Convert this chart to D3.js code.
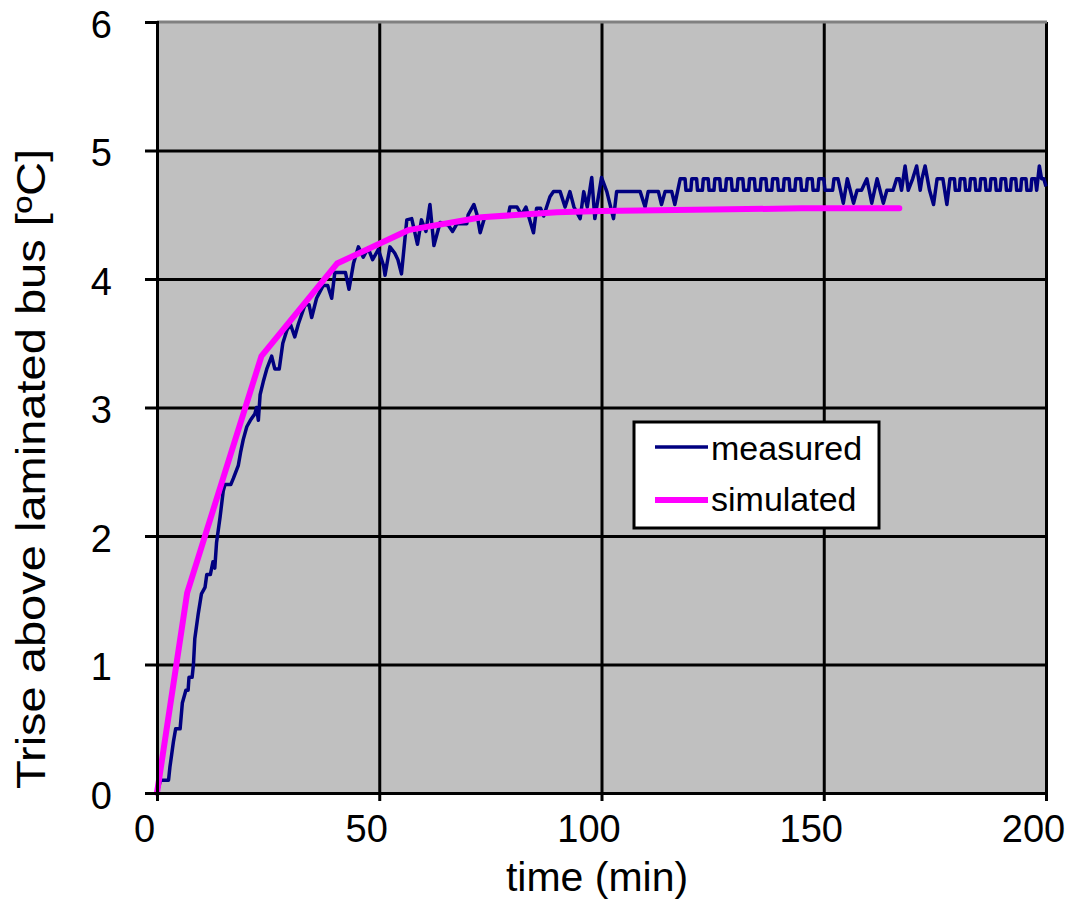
<!DOCTYPE html>
<html>
<head>
<meta charset="utf-8">
<script src="https://cdn.jsdelivr.net/npm/d3@7/dist/d3.min.js"></script>
<style>
  html, body { margin: 0; padding: 0; background: #ffffff; }
  svg { display: block; }
  text { font-family: "Liberation Sans", Arial, Helvetica, sans-serif; fill: #000; }
</style>
</head>
<body>
<svg id="chart" width="1070" height="902"></svg>
<script>
// ---- data ----
const xTicks = [0, 50, 100, 150, 200];
const yTicks = [0, 1, 2, 3, 4, 5, 6];
const xTitle = "time (min)";
const yTitle = "Trise above laminated bus [ºC]";
const seriesNames = ["measured", "simulated"];

// simulated curve: [time (min), temperature rise (°C)]
const simulated = [
  [0, 0], [6.8, 1.56], [23.5, 3.40], [40.5, 4.12], [56.5, 4.38], [73, 4.48],
  [90, 4.52], [100, 4.53], [125, 4.54], [145, 4.55], [167, 4.55]
];

// measured curve: [time (min), temperature rise (°C)]
const measured = [
  [0,0],[0.8,0.1],[1.5,0.1],[2.6,0.1],[2.9,0.2],[3.3,0.3],[3.7,0.4],[4.2,0.5],[5.2,0.5],[5.7,0.7],
  [6.5,0.8],[7.0,0.8],[7.2,0.9],[7.9,0.9],[8.2,1.0],[8.5,1.2],[9.3,1.4],[10.0,1.55],[10.8,1.6],[11.2,1.7],
  [12.0,1.7],[12.6,1.8],[13.0,1.75],[13.4,1.95],[14.2,2.15],[14.9,2.35],[15.3,2.4],[16.6,2.4],[17.2,2.45],[18.3,2.55],
  [18.8,2.65],[19.4,2.75],[20.2,2.85],[21.0,2.9],[22.0,2.95],[22.4,3.0],[22.8,2.9],[23.2,3.1],[23.9,3.2],[24.7,3.3],
  [25.8,3.4],[26.5,3.3],[27.5,3.3],[28.3,3.5],[29.2,3.6],[30.0,3.65],[31.0,3.55],[31.8,3.65],[33.3,3.8],[34.2,3.8],
  [34.8,3.7],[35.9,3.85],[37.4,3.95],[38.4,3.95],[39.3,3.85],[40.0,4.05],[41.5,4.05],[42.4,4.05],[43.2,3.92],[44.2,4.12],
  [45.3,4.25],[46.4,4.17],[47.5,4.24],[48.5,4.15],[49.8,4.23],[51.0,4.1],[51.3,4.03],[52.4,4.25],[53.5,4.2],[54.2,4.15],
  [55.0,4.04],[56.2,4.46],[57.3,4.47],[58.6,4.27],[59.5,4.46],[60.5,4.37],[61.4,4.58],[62.3,4.26],[63.7,4.44],[65.5,4.42],
  [66.5,4.37],[67.5,4.43],[69.7,4.43],[70.0,4.5],[71.3,4.58],[72.0,4.5],[72.7,4.36],[73.8,4.49],[79.0,4.49],[79.4,4.56],
  [81.0,4.56],[82.0,4.5],[83.0,4.56],[84.7,4.36],[85.4,4.55],[86.3,4.55],[87.0,4.49],[88.4,4.64],[89.2,4.68],[90.7,4.68],
  [91.8,4.56],[92.9,4.68],[93.8,4.56],[95.2,4.47],[96.0,4.68],[96.8,4.56],[97.8,4.79],[98.5,4.47],[100.0,4.79],[101.2,4.68],
  [102.7,4.47],[103.4,4.68],[108.7,4.68],[109.8,4.56],[110.5,4.68],[112.8,4.68],[113.5,4.58],[114.3,4.68],[115.8,4.68],[116.5,4.58],
  [117.7,4.78],[118.8,4.78],[119.0,4.69],[120.1,4.69],[120.3,4.78],[121.4,4.78],[121.6,4.69],[122.7,4.69],
  [122.9,4.78],[124.0,4.78],[124.2,4.69],[125.3,4.69],[125.5,4.78],[126.6,4.78],[126.8,4.69],[127.9,4.69],
  [128.1,4.78],[129.2,4.78],[129.4,4.69],[130.5,4.69],[130.7,4.78],[131.8,4.78],[132.0,4.69],[133.1,4.69],
  [133.3,4.78],[134.4,4.78],[134.6,4.69],[135.7,4.69],[135.9,4.78],[137.0,4.78],[137.2,4.69],[138.3,4.69],
  [138.5,4.78],[139.6,4.78],[139.8,4.69],[140.9,4.69],[141.1,4.78],[142.2,4.78],[142.4,4.69],[143.5,4.69],
  [143.7,4.78],[144.8,4.78],[145.0,4.69],[146.1,4.69],[146.3,4.78],[147.4,4.78],[147.6,4.69],[148.7,4.69],
  [148.9,4.78],[150.0,4.78],[150.3,4.69],[152.0,4.69],[152.3,4.78],[153.2,4.78],[154.4,4.59],[155.3,4.78],
  [156.7,4.59],[157.5,4.69],[158.5,4.69],[159.7,4.78],[160.8,4.59],[162.0,4.78],[163.4,4.59],[164.2,4.69],
  [165.6,4.69],[166.4,4.78],[167.0,4.78],[167.5,4.69],[168.3,4.88],[169.0,4.69],[170.0,4.78],[170.9,4.88],
  [171.7,4.69],[172.1,4.78],[172.8,4.88],[173.8,4.69],[174.7,4.58],[175.5,4.78],[176.8,4.78],[177.7,4.58],
  [178.4,4.78],[179.4,4.78],[179.6,4.69],[180.5,4.69],[180.7,4.78],[181.7,4.78],[181.9,4.69],[182.8,4.69],
  [183.0,4.78],[184.0,4.78],[184.2,4.69],[185.1,4.69],[185.3,4.78],[186.3,4.78],[186.5,4.69],[187.4,4.69],
  [187.6,4.78],[188.6,4.78],[188.8,4.69],[189.7,4.69],[189.9,4.78],[190.9,4.78],[191.1,4.69],[192.0,4.69],
  [192.2,4.78],[193.2,4.78],[193.4,4.69],[194.3,4.69],[194.5,4.78],[195.5,4.78],[195.7,4.69],[196.6,4.69],
  [196.8,4.78],[197.6,4.78],[197.9,4.69],[198.5,4.88],[199.0,4.78],[199.5,4.78],[200,4.72]
];

// ---- layout ----
const plot = { left: 157, right: 1046, top: 22, bottom: 793 };
const colors = { measured: "#000080", simulated: "#FF00FF", plotBg: "#C0C0C0", grid: "#000000", border: "#808080" };

const svg = d3.select("#chart");
const x = d3.scaleLinear().domain([0, 200]).range([plot.left, plot.right]);
const y = d3.scaleLinear().domain([0, 6]).range([plot.bottom, plot.top]);

// plot background
svg.append("rect")
  .attr("x", plot.left).attr("y", plot.top)
  .attr("width", plot.right - plot.left).attr("height", plot.bottom - plot.top)
  .attr("fill", colors.plotBg);

// gridlines
const gridY = d3.axisLeft(y).tickValues(yTicks.filter(d => d > 0 && d < 6))
  .tickSize(-(plot.right - plot.left)).tickFormat("");
svg.append("g").attr("transform", `translate(${plot.left},0)`).call(gridY)
  .call(g => g.select(".domain").remove())
  .call(g => g.selectAll("line").attr("stroke", colors.grid).attr("stroke-width", 3));

const gridX = d3.axisBottom(x).tickValues(xTicks.filter(d => d > 0))
  .tickSize(-(plot.bottom - plot.top)).tickFormat("");
svg.append("g").attr("transform", `translate(0,${plot.bottom})`).call(gridX)
  .call(g => g.select(".domain").remove())
  .call(g => g.selectAll("line").attr("stroke", colors.grid).attr("stroke-width", 3));

// top border (gray)
svg.append("line")
  .attr("x1", plot.left).attr("x2", plot.right + 1)
  .attr("y1", plot.top).attr("y2", plot.top)
  .attr("stroke", colors.border).attr("stroke-width", 3);

// series lines
const line = d3.line().x(d => x(d[0])).y(d => y(d[1]));
svg.append("path").datum(measured)
  .attr("fill", "none").attr("stroke", colors.measured)
  .attr("stroke-width", 3.5).attr("stroke-linejoin", "round").attr("d", line);
svg.append("path").datum(simulated)
  .attr("fill", "none").attr("stroke", colors.simulated)
  .attr("stroke-width", 6).attr("stroke-linejoin", "round").attr("stroke-linecap", "round").attr("d", line);

// axes
const yAxis = d3.axisLeft(y).tickValues(yTicks).tickSize(12).tickPadding(33).tickFormat(d3.format("d"));
svg.append("g").attr("transform", `translate(${plot.left},0)`).call(yAxis)
  .call(g => g.select(".domain").attr("stroke", "#000").attr("stroke-width", 3))
  .call(g => g.selectAll(".tick line").attr("stroke", "#000").attr("stroke-width", 3))
  .call(g => g.selectAll(".tick text").attr("font-size", 38).attr("dy", "0.40em")
      .style("font-family", '"Liberation Sans", Arial, sans-serif'));

const xAxis = d3.axisBottom(x).tickValues(xTicks).tickSize(8).tickPadding(14).tickFormat(d3.format("d"));
svg.append("g").attr("transform", `translate(0,${plot.bottom})`).call(xAxis)
  .call(g => g.select(".domain").attr("stroke", "#000").attr("stroke-width", 3))
  .call(g => g.selectAll(".tick line").attr("stroke", "#000").attr("stroke-width", 3))
  .call(g => g.selectAll(".tick text").attr("font-size", 38).attr("dx", -13)
      .style("font-family", '"Liberation Sans", Arial, sans-serif'));
svg.selectAll(".domain").attr("fill", "none");

// axis titles
svg.append("text").attr("x", 597).attr("y", 891).attr("text-anchor", "middle")
  .attr("font-size", 41).text(xTitle);
svg.append("text").attr("transform", "translate(45,469) rotate(-90)").attr("text-anchor", "middle")
  .attr("font-size", 41).attr("textLength", 640).attr("lengthAdjust", "spacingAndGlyphs").text(yTitle);

// legend
const legend = svg.append("g");
legend.append("rect").attr("x", 634).attr("y", 422).attr("width", 245).attr("height", 106)
  .attr("fill", "#fff").attr("stroke", "#000").attr("stroke-width", 3);
const legendRows = [
  { name: seriesNames[0], color: colors.measured, width: 3.5, ly: 447, ty: 460 },
  { name: seriesNames[1], color: colors.simulated, width: 6, ly: 500, ty: 511 }
];
legendRows.forEach(r => {
  legend.append("line").attr("x1", 655).attr("x2", 708).attr("y1", r.ly).attr("y2", r.ly)
    .attr("stroke", r.color).attr("stroke-width", r.width);
  legend.append("text").attr("x", 711).attr("y", r.ty).attr("font-size", 34).text(r.name);
});
</script>
</body>
</html>
